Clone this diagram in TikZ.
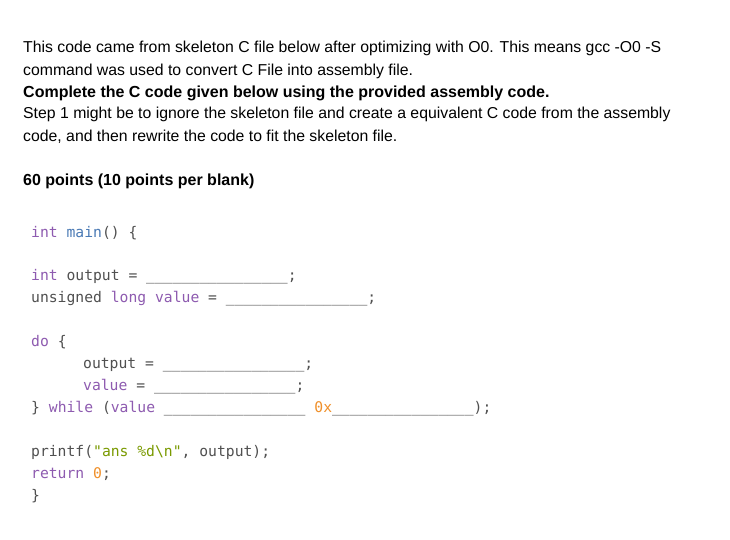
\documentclass[tikz,border=0pt]{standalone}
\usepackage{fontspec}
\setmainfont{Liberation Sans}
\newfontfamily\codefont{DejaVu Sans Mono}
\definecolor{kw}{HTML}{8E5BB0}
\definecolor{fn}{HTML}{4A7AB5}
\definecolor{tx}{HTML}{505050}
\definecolor{num}{HTML}{F0902A}
\definecolor{str}{HTML}{7A9A01}
\newcommand\myblank{\_\_\_\_\_\_\_\_\_\_\_\_\_\_\_\_}
\newcommand\K[1]{\textcolor{kw}{#1}}
\begin{document}
\begin{tikzpicture}[x=1pt,y=-1pt,
  para/.style={anchor=base west,inner sep=0pt,font=\fontsize{15.8}{18}\selectfont,text=black},
  code/.style={anchor=base west,inner sep=0pt,font=\codefont\fontsize{14.7}{18}\selectfont,text=tx}]
\useasboundingbox (0,0) rectangle (730,539);
\fill[white] (0,0) rectangle (730,539);
\node[para] (p1) at (23,52) {This code came from skeleton C file below after optimizing with O0. This means gcc -O0 -S};
\node[para] (p2) at (23,75) {command was used to convert C File into assembly file.};
\node[para,font=\bfseries\fontsize{16}{18}\selectfont] (p3) at (23,97) {Complete the C code given below using the provided assembly code.};
\node[para] (p4) at (23,118) {Step 1 might be to ignore the skeleton file and create a equivalent C code from the assembly};
\node[para] (p5) at (23,141) {code, and then rewrite the code to fit the skeleton file.};
\node[para,font=\bfseries\fontsize{16}{18}\selectfont] (p6) at (23,185) {60 points (10 points per blank)};
\node[code] (c1) at (31,237) {\K{int} \textcolor{fn}{main}() \{};
\node[code] (c2) at (31,280) {\K{int} output = \myblank;};
\node[code] (c3) at (31,302) {unsigned \K{long} \K{value} = \myblank;};
\node[code] (c4) at (31,346) {\K{do} \{};
\node[code] (c5) at (83,368) {output = \myblank;};
\node[code] (c6) at (83,390) {\K{value} = \myblank;};
\node[code] (c7) at (31,412) {\} \K{while} (\K{value} \myblank{} \textcolor{num}{0x}\myblank);};
\node[code] (c8) at (31,456) {printf(\textcolor{str}{"ans \%d\textbackslash n"}, output);};
\node[code] (c9) at (31,478) {\K{return} \textcolor{num}{0};};
\node[code] (c10) at (31,500) {\}};
\end{tikzpicture}
\end{document}
